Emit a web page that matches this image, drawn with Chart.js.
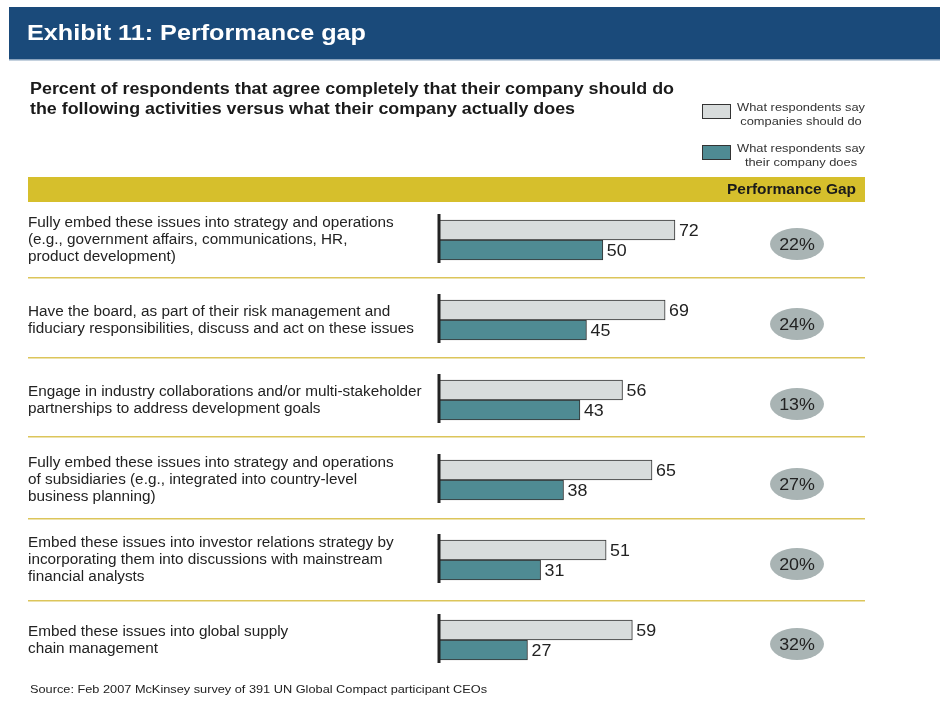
<!DOCTYPE html>
<html><head><meta charset="utf-8">
<script src="https://cdn.jsdelivr.net/npm/chart.js@4/dist/chart.umd.min.js"></script>
<style>html,body{margin:0;padding:0;background:#fff;} canvas{display:block;}</style>
</head><body>
<canvas id="c" width="942" height="725"></canvas>
<script>
const categories = [
  ["Fully embed these issues into strategy and operations", "(e.g., government affairs, communications, HR,", "product development)"],
  ["Have the board, as part of their risk management and", "fiduciary responsibilities, discuss and act on these issues"],
  ["Engage in industry collaborations and/or multi-stakeholder", "partnerships to address development goals"],
  ["Fully embed these issues into strategy and operations", "of subsidiaries (e.g., integrated into country-level", "business planning)"],
  ["Embed these issues into investor relations strategy by", "incorporating them into discussions with mainstream", "financial analysts"],
  ["Embed these issues into global supply", "chain management"]
];
const shouldDo = [72, 69, 56, 65, 51, 59];
const actuallyDoes = [50, 45, 43, 38, 31, 27];
const gapLabels = ["22%", "24%", "13%", "27%", "20%", "32%"];
const seriesNames = [["What respondents say", "companies should do"], ["What respondents say", "their company does"]];
const titleText = "Exhibit 11: Performance gap";
const subtitleLines = ["Percent of respondents that agree completely that their company should do", "the following activities versus what their company actually does"];
const gapHeader = "Performance Gap";
const sourceText = "Source: Feb 2007 McKinsey survey of 391 UN Global Compact participant CEOs";

const LIGHT = '#d8dcdc', TEAL = '#4f8b93', GOLD = '#d6bf2c', SEP = '#dcc55a', BLUE = '#1a4a7a';
const BASE = '"Liberation Sans", Arial, Helvetica, sans-serif';
const HX = 1.1; // horizontal stretch of the reference lettering

// draw text stretched horizontally by factor sx
function sText(ctx, text, x, y, sx, align) {
  ctx.save();
  ctx.translate(x, y);
  ctx.scale(sx, 1);
  ctx.textAlign = align || 'left';
  ctx.fillText(text, 0, 0);
  ctx.restore();
}
// draw text fitted to width w
function fitText(ctx, text, x, y, w, align) {
  const m = ctx.measureText(text).width;
  sText(ctx, text, x, y, w / m, align);
}

const decor = {
  id: 'decor',
  beforeDraw(chart) {
    const ctx = chart.ctx, ca = chart.chartArea;
    ctx.save();
    // header band
    ctx.fillStyle = BLUE;
    ctx.fillRect(9, 7, 931, 53);
    ctx.fillStyle = '#8aa3bd';
    ctx.fillRect(9, 59, 931, 1.5);
    ctx.fillStyle = '#fff';
    ctx.font = 'bold 22px ' + BASE;
    ctx.textBaseline = 'alphabetic';
    fitText(ctx, titleText, 27, 40, 339, 'left');
    // subtitle
    ctx.fillStyle = '#1a1a1a';
    ctx.font = 'bold 16px ' + BASE;
    fitText(ctx, subtitleLines[0], 30, 94, 644, 'left');
    fitText(ctx, subtitleLines[1], 30, 114, 545, 'left');
    // legend
    const boxes = [[104, LIGHT], [145, TEAL]];
    ctx.font = '11.7px ' + BASE;
    boxes.forEach((b, i) => {
      ctx.fillStyle = b[1];
      ctx.fillRect(702.5, b[0] + 0.5, 28, 14);
      ctx.strokeStyle = '#333';
      ctx.lineWidth = 1;
      ctx.strokeRect(702.5, b[0] + 0.5, 28, 14);
      ctx.fillStyle = '#333';
      ctx.textBaseline = 'middle';
      sText(ctx, seriesNames[i][0], 801, b[0] + 4, HX, 'center');
      sText(ctx, seriesNames[i][1], 801, b[0] + 18, HX, 'center');
    });
    // gold band
    ctx.fillStyle = GOLD;
    ctx.fillRect(28, 177, ca.right - 28, 25);
    ctx.fillStyle = '#1a1a1a';
    ctx.font = 'bold 14px ' + BASE;
    ctx.textBaseline = 'middle';
    fitText(ctx, gapHeader, 856, 190, 129, 'right');
    // separators
    const ys = chart.scales.y;
    ctx.fillStyle = SEP;
    const offs = [-3, -3, -4, -2, 0];
    for (let i = 0; i < categories.length - 1; i++) {
      const y = Math.round((ys.getPixelForValue(i) + ys.getPixelForValue(i + 1)) / 2) + offs[i];
      ctx.fillRect(28, y, ca.right - 28, 1.5);
    }
    // source
    ctx.fillStyle = '#222';
    ctx.font = '11.5px ' + BASE;
    ctx.textBaseline = 'middle';
    fitText(ctx, sourceText, 30, 690, 457, 'left');
    ctx.restore();
  },
  afterDatasetsDraw(chart) {
    const ctx = chart.ctx, ca = chart.chartArea, ys = chart.scales.y;
    ctx.save();
    // axis stubs
    ctx.strokeStyle = '#222';
    ctx.lineWidth = 3;
    categories.forEach((c, i) => {
      const y = ys.getPixelForValue(i);
      ctx.beginPath();
      ctx.moveTo(ca.left, y - 26);
      ctx.lineTo(ca.left, y + 23);
      ctx.stroke();
    });
    // value labels
    ctx.fillStyle = '#222';
    ctx.font = '17px ' + BASE;
    ctx.textBaseline = 'middle';
    chart.data.datasets.forEach((ds, di) => {
      chart.getDatasetMeta(di).data.forEach((el, i) => {
        sText(ctx, String(ds.data[i]), el.x + 4, el.y + 1, 1.05, 'left');
      });
    });
    // gap ellipses
    ctx.font = '17px ' + BASE;
    gapLabels.forEach((g, i) => {
      const y = ys.getPixelForValue(i) + 4;
      ctx.fillStyle = '#a9b4b4';
      ctx.beginPath();
      ctx.ellipse(797, y, 27, 16, 0, 0, Math.PI * 2);
      ctx.fill();
      ctx.fillStyle = '#222';
      sText(ctx, g, 797, y + 1, 1.05, 'center');
    });
    ctx.restore();
  }
};

new Chart(document.getElementById('c'), {
  type: 'bar',
  data: {
    labels: categories,
    datasets: [
      { label: seriesNames[0].join(' '), data: shouldDo, backgroundColor: LIGHT, borderColor: '#333', borderWidth: 1, barThickness: 20, borderSkipped: 'left' },
      { label: seriesNames[1].join(' '), data: actuallyDoes, backgroundColor: TEAL, borderColor: '#333', borderWidth: 1, barThickness: 20, borderSkipped: 'left' }
    ]
  },
  options: {
    indexAxis: 'y',
    responsive: false,
    animation: false,
    devicePixelRatio: 1,
    layout: { padding: { left: 28, top: 200, right: 77, bottom: 45 } },
    plugins: { legend: { display: false }, tooltip: { enabled: false }, title: { display: false } },
    scales: {
      x: { display: false, min: 0, max: 130 },
      y: {
        grid: { display: false },
        border: { display: false },
        ticks: { crossAlign: 'far', color: '#222', font: { family: BASE, size: 15.3, lineHeight: 1.11 }, padding: 0 },
        afterFit(scale) { scale.width = 411; }
      }
    }
  },
  plugins: [decor]
});
</script>
</body></html>
